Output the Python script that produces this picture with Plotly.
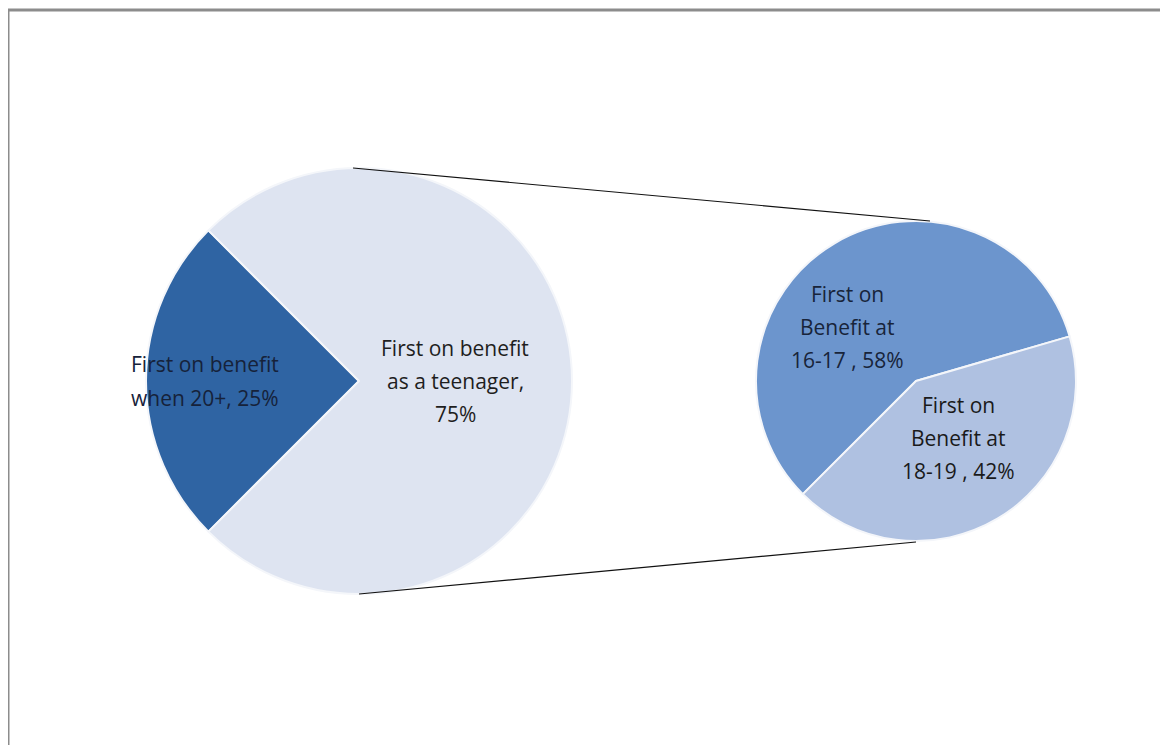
import plotly.graph_objects as go

# ---- data ----
main_labels = ["First on benefit when 20+", "First on benefit as a teenager"]
main_values = [25, 75]
sub_labels = ["First on Benefit at 16-17", "First on Benefit at 18-19"]
sub_values = [58, 42]

main_label_lines = [["First on benefit", "when 20+, 25%"],
                    ["First on benefit", "as a teenager,", "75%"]]
sub_label_lines = [["First on", "Benefit at", "16-17 , 58%"],
                   ["First on", "Benefit at", "18-19 , 42%"]]

main_colors = ["#2F64A3", "#DEE4F1"]
sub_colors = ["#6C95CD", "#AFC1E1"]

W, H = 1168, 745
OFF = 8  # page body margin offset

# geometry (pixels, in screenshot coordinates)
main_c, main_r = (359, 381), 213
sub_c, sub_r = (916, 381), 160


def px(x):
    return (x - OFF) / W


def py(y):
    return 1 - (y - OFF) / H


def dom(c, r):
    return dict(x=[px(c[0] - r), px(c[0] + r)], y=[py(c[1] + r), py(c[1] - r)])


fig = go.Figure()
fig.add_trace(go.Pie(
    labels=main_labels, values=main_values, sort=False,
    direction="clockwise", rotation=225,
    marker=dict(colors=main_colors, line=dict(color="#F4F6FA", width=2)),
    textinfo="none", hoverinfo="label+percent", showlegend=False,
    domain=dom(main_c, main_r)))
fig.add_trace(go.Pie(
    labels=sub_labels, values=sub_values, sort=False,
    direction="clockwise", rotation=225,
    marker=dict(colors=sub_colors, line=dict(color="#F4F6FA", width=2)),
    textinfo="none", hoverinfo="label+percent", showlegend=False,
    domain=dom(sub_c, sub_r)))

font_family = "Open Sans, Liberation Sans, sans-serif"
LINE = 33


def add_label(lines, cx, cy, color):
    n = len(lines)
    for i, t in enumerate(lines):
        y = cy + (i - (n - 1) / 2) * LINE
        fig.add_annotation(x=px(cx), y=py(y), xref="paper", yref="paper",
                           text=t, showarrow=False, xanchor="center", yanchor="middle",
                           font=dict(family=font_family, size=21, color=color))


add_label(main_label_lines[0], 205, 381, "#16223A")
add_label(main_label_lines[1], 455, 381, "#1E1E1E")
add_label(sub_label_lines[0], 847, 327, "#18243A")
add_label(sub_label_lines[1], 958, 438, "#1A1A1A")

# connector lines between the two pies
shapes = [
    dict(type="line", xref="paper", yref="paper",
         x0=px(main_c[0] - 6), y0=py(main_c[1] - main_r),
         x1=px(sub_c[0] + 14), y1=py(sub_c[1] - sub_r),
         line=dict(color="#111111", width=1.2)),
    dict(type="line", xref="paper", yref="paper",
         x0=px(main_c[0]), y0=py(main_c[1] + main_r),
         x1=px(sub_c[0]), y1=py(sub_c[1] + sub_r + 1),
         line=dict(color="#111111", width=1.2)),
    # outer frame (top and left visible)
    dict(type="rect", xref="paper", yref="paper",
         x0=px(8), y0=py(10), x1=px(W + 40), y1=py(H + 40),
         line=dict(color="#8C8C8C", width=3), layer="below"),
]

fig.update_layout(
    width=W, height=H,
    margin=dict(l=0, r=0, t=0, b=0),
    paper_bgcolor="#FFFFFF", plot_bgcolor="#FFFFFF",
    shapes=shapes,
)

fig.write_html("out.html")
